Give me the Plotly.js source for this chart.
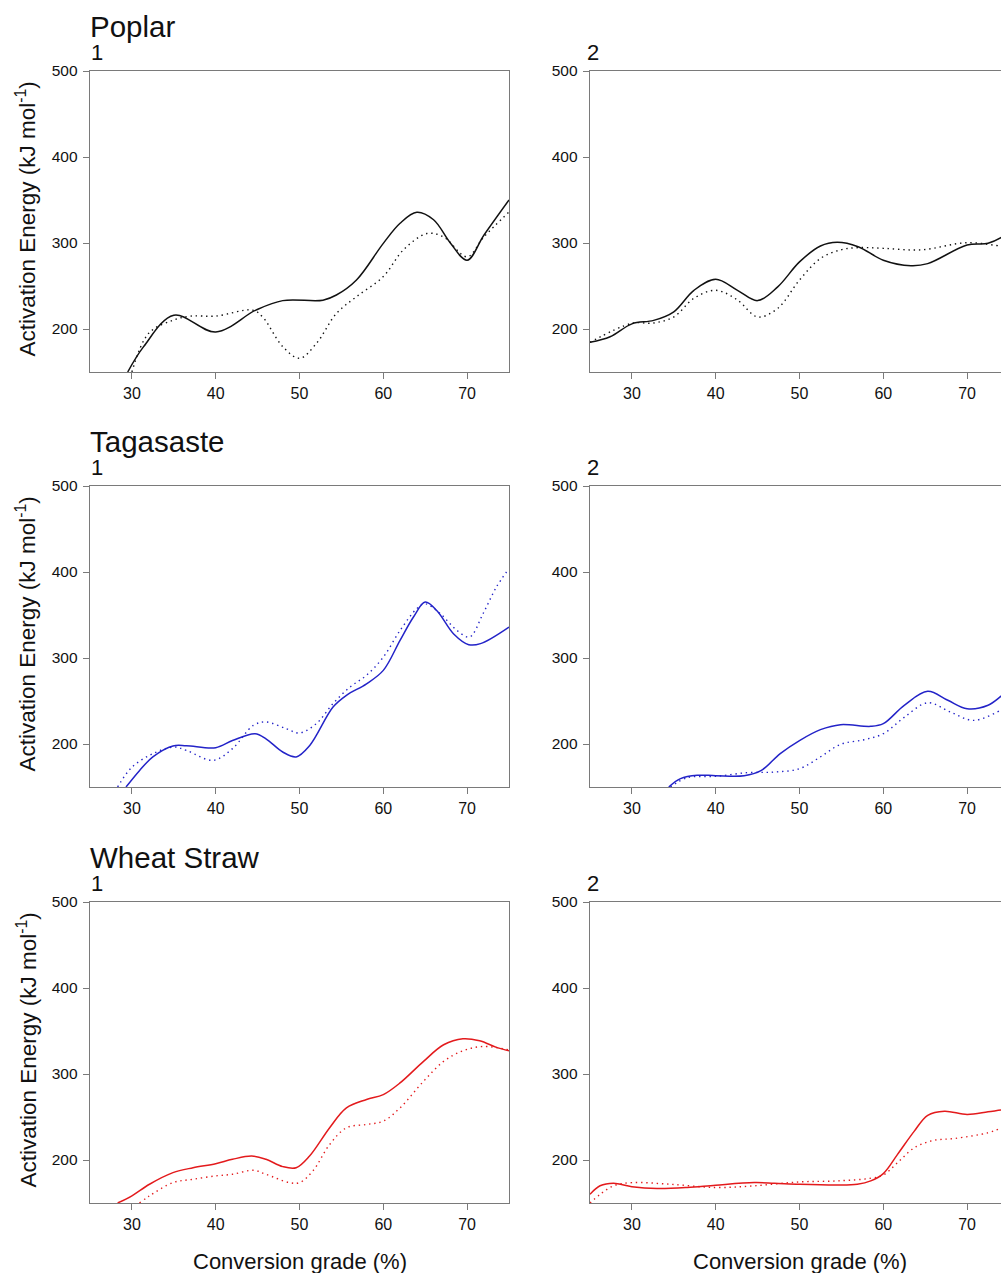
<!DOCTYPE html>
<html>
<head>
<meta charset="utf-8">
<script src="https://cdn.plot.ly/plotly-3.0.1.min.js"></script>
<style>
html,body{margin:0;padding:0;overflow:hidden;background:#fff;}
#chart{width:1010px;height:1273px;}
</style>
</head>
<body>
<div id="chart"></div>
<script>
// ---------- Data ----------
const materials = ["Poplar", "Tagasaste", "Wheat Straw"];
const panelLabels = ["1", "2"];
const xTicks = [30, 40, 50, 60, 70];
const yTicks = [200, 300, 400, 500];

// Poplar, panel 1
const poplar1SolidX = [29.5, 31.4, 35, 40, 44.8, 48, 52.8, 54.4, 56.8, 60, 62, 64, 66, 68, 70, 72, 75];
const poplar1SolidY = [150, 179.5, 216, 196.5, 222, 233, 233.5, 239.5, 257, 299.6, 323, 335.7, 327, 300, 280, 309, 350];
const poplar1DotX = [30, 32, 35, 37, 40, 44.4, 45.6, 48, 50, 52, 54.4, 56.8, 60, 62.4, 65.2, 67.2, 70, 72, 75];
const poplar1DotY = [150, 195, 210.5, 215, 215, 222, 214, 179.5, 166, 183, 218, 237.6, 261, 292, 311, 307, 284, 307, 336];
// Poplar, panel 2
const poplar2SolidX = [25, 27.4, 30, 32.6, 35, 37.4, 40, 42.6, 45, 47.4, 50, 52.5, 54.5, 57, 60, 63.3, 65.3, 70, 72.5, 74.2, 75];
const poplar2SolidY = [184.5, 191, 206, 210, 220, 245, 257.8, 245, 233, 249, 278, 296.5, 300.8, 295.7, 280, 273.6, 276, 297.7, 299.6, 307, 313];
const poplar2DotX = [25, 30, 32.6, 35, 37.4, 40, 42.6, 45, 47.4, 50, 52.5, 54.9, 57, 60, 64.5, 70, 74.2, 75];
const poplar2DotY = [184.5, 206.6, 207, 214, 235.7, 245, 233.7, 214, 224, 257, 282, 292, 294.6, 293.8, 292, 300.4, 296.5, 297];

// Tagasaste, panel 1
const taga1SolidX = [29.3, 30.9, 32.5, 34.9, 36.5, 40, 42, 44.7, 46, 48, 49.6, 51.2, 54, 55.6, 58, 60, 62, 63.6, 65, 66.4, 68.4, 70.2, 71.6, 75];
const taga1SolidY = [150, 169, 185, 197.7, 198, 195.7, 204, 212, 206, 190.7, 185, 198, 243, 256.6, 270, 285.6, 320.5, 347.7, 365, 355, 328, 315.5, 316.7, 336];
const taga1DotX = [28.3, 30, 32.5, 35, 36.5, 39.7, 42, 44.5, 46, 48.4, 50, 52, 54, 56, 58, 60, 62, 64, 65, 66.8, 68.8, 70.3, 71.9, 73.5, 74.7];
const taga1DotY = [150, 173, 188.8, 196.5, 192.6, 181, 194.6, 221.7, 225.6, 217.8, 212.8, 223.6, 247, 266, 280, 301, 332, 357.4, 363, 351.5, 332, 324.4, 351.5, 382.6, 400];
// Tagasaste, panel 2
const taga2SolidX = [34.4, 35.8, 37.8, 40, 43.4, 45.4, 47.7, 50, 52.5, 54.9, 58.5, 60, 62.5, 65.3, 67.7, 70, 72.5, 74.2, 75];
const taga2SolidY = [150, 159.7, 163.6, 163.2, 163.2, 169, 188.8, 204, 216.7, 222.5, 220.5, 223.6, 245, 261.2, 250.8, 241, 245, 256.6, 262];
const taga2DotX = [34.6, 36.6, 40, 43.8, 47, 50, 52.5, 54.9, 57.7, 60, 62.5, 65.3, 68, 70.8, 74.2, 75];
const taga2DotY = [150, 160.8, 162.4, 166.7, 167.4, 171.3, 185, 199.6, 205, 212, 231, 248, 237.2, 227.5, 240, 244];

// Wheat Straw, panel 1
const wheat1SolidX = [28.3, 30, 32.1, 34.9, 37.3, 40, 42, 44.3, 46, 48, 49.6, 51.2, 53.6, 55.6, 58, 60, 62, 64.8, 67.2, 69.5, 71.5, 73.5, 75];
const wheat1SolidY = [150, 158.3, 171.8, 185.3, 191, 195.7, 200.8, 204.6, 200.8, 192.3, 191, 204.6, 237.5, 260.6, 270.3, 276, 289.6, 314.7, 334, 341, 338.6, 331, 327];
const wheat1DotX = [30.9, 32.1, 34.9, 37.3, 40, 42, 44.5, 46, 48.8, 50, 51.6, 53.6, 55.6, 58, 60, 62, 64.8, 67.2, 69.5, 71.9, 75];
const wheat1DotY = [150, 158.3, 173.7, 177.6, 181.5, 183.4, 188, 183.4, 173.7, 173.7, 187.3, 218, 237.5, 241.3, 245.2, 260.6, 291.5, 314.7, 327, 332, 328];
// Wheat Straw, panel 2
const wheat2SolidX = [25, 26.2, 27.8, 30, 33, 36.6, 40, 44.6, 47, 50, 54.5, 56.9, 58.5, 60, 61.7, 63.7, 65.3, 67.3, 70, 72.5, 74.2, 75];
const wheat2SolidY = [160.2, 170, 173, 169, 166.8, 168, 170.7, 173.7, 173, 171.8, 171, 171.8, 175.7, 184.2, 206.6, 233.6, 252, 256.8, 252.9, 256, 258.3, 259];
const wheat2DotX = [25, 26.2, 27.8, 30, 34.6, 40, 44.6, 50, 54.5, 58.5, 60, 61.7, 63.7, 66, 68.5, 72.5, 74.2, 75];
const wheat2DotY = [150, 160, 170, 173.7, 171.8, 168, 170, 174.5, 175.7, 178.8, 182.6, 196.9, 214.3, 222.8, 225, 231.7, 237.5, 240];

const seriesColors = ["#111111", "#2323c8", "#e31a1c"];

// ---------- Layout geometry ----------
const W = 1010, H = 1273;
const colPx = [[90, 509], [590, 1009]];
const rowPx = [[71, 372], [486, 787], [902, 1203]];

const panels = [
  [[poplar1SolidX, poplar1SolidY, poplar1DotX, poplar1DotY], [poplar2SolidX, poplar2SolidY, poplar2DotX, poplar2DotY]],
  [[taga1SolidX, taga1SolidY, taga1DotX, taga1DotY], [taga2SolidX, taga2SolidY, taga2DotX, taga2DotY]],
  [[wheat1SolidX, wheat1SolidY, wheat1DotX, wheat1DotY], [wheat2SolidX, wheat2SolidY, wheat2DotX, wheat2DotY]]
];

const FONT = "Liberation Sans, Arial, sans-serif";
const traces = [];
const layout = {
  width: W, height: H,
  margin: {l: 0, r: 0, t: 0, b: 0},
  paper_bgcolor: "#fff", plot_bgcolor: "#fff",
  showlegend: false,
  font: {family: FONT, color: "#111", size: 15.5},
  annotations: []
};

let idx = 0;
for (let r = 0; r < 3; r++) {
  for (let c = 0; c < 2; c++) {
    idx++;
    const xa = idx === 1 ? "x" : "x" + idx;
    const ya = idx === 1 ? "y" : "y" + idx;
    const xk = idx === 1 ? "xaxis" : "xaxis" + idx;
    const yk = idx === 1 ? "yaxis" : "yaxis" + idx;
    const d = panels[r][c];
    traces.push({x: d[0], y: d[1], xaxis: xa, yaxis: ya, type: "scatter", mode: "lines",
      line: {color: seriesColors[r], width: 1.5, shape: "spline", smoothing: 1}, hoverinfo: "skip"});
    traces.push({x: d[2], y: d[3], xaxis: xa, yaxis: ya, type: "scatter", mode: "lines",
      line: {color: seriesColors[r], width: 1.4, dash: "1.4px,3.8px", shape: "spline", smoothing: 1}, hoverinfo: "skip"});

    const xd = [colPx[c][0] / W, colPx[c][1] / W];
    const yd = [1 - rowPx[r][1] / H, 1 - rowPx[r][0] / H];
    layout[xk] = {
      domain: xd, anchor: ya, range: [25, 75], tickvals: xTicks,
      showline: true, linecolor: "#7a7a7a", linewidth: 1.3, mirror: true,
      ticks: "outside", ticklen: 6, tickcolor: "#7a7a7a", tickwidth: 1,
      showgrid: false, zeroline: false, automargin: false, ticklabelstandoff: 0,
      tickfont: {family: FONT, size: 16, color: "#111"}
    };
    layout[yk] = {
      domain: yd, anchor: xa, range: [150, 500], tickvals: yTicks,
      showline: true, linecolor: "#7a7a7a", linewidth: 1.3, mirror: true,
      ticks: "outside", ticklen: 6, tickcolor: "#7a7a7a", tickwidth: 1,
      showgrid: false, zeroline: false, automargin: false, ticklabelstandoff: 2,
      tickfont: {family: FONT, size: 15.5, color: "#111"}
    };

    // panel number label
    layout.annotations.push({
      text: panelLabels[c], xref: "paper", yref: "paper",
      x: (c === 0 ? 90 : 586) / W, y: 1 - (rowPx[r][0] - 19) / H,
      xanchor: "left", yanchor: "middle", showarrow: false, borderpad: 0,
      font: {family: FONT, size: 22, color: "#111"}
    });
    if (c === 0) {
      // material title
      layout.annotations.push({
        text: materials[r], xref: "paper", yref: "paper",
        x: 89 / W, y: 1 - (rowPx[r][0] - 45) / H,
        xanchor: "left", yanchor: "middle", showarrow: false, borderpad: 0,
        font: {family: FONT, size: 29.5, color: "#111"}
      });
      // y-axis title
      layout.annotations.push({
        text: "Activation Energy (kJ mol<sup>-1</sup>)", xref: "paper", yref: "paper",
        x: 26 / W, y: 1 - ((rowPx[r][0] + rowPx[r][1]) / 2 - 2) / H,
        xanchor: "center", yanchor: "middle", textangle: -90, showarrow: false,
        font: {family: FONT, size: 22.5, color: "#111"}
      });
    }
    if (r === 2) {
      layout.annotations.push({
        text: "Conversion grade (%)", xref: "paper", yref: "paper",
        x: ((colPx[c][0] + colPx[c][1]) / 2) / W, y: 1 - 1261 / H,
        xanchor: "center", yanchor: "middle", showarrow: false,
        font: {family: FONT, size: 22, color: "#111"}
      });
    }
  }
}

Plotly.newPlot("chart", traces, layout, {staticPlot: true, displayModeBar: false});
</script>
</body>
</html>
